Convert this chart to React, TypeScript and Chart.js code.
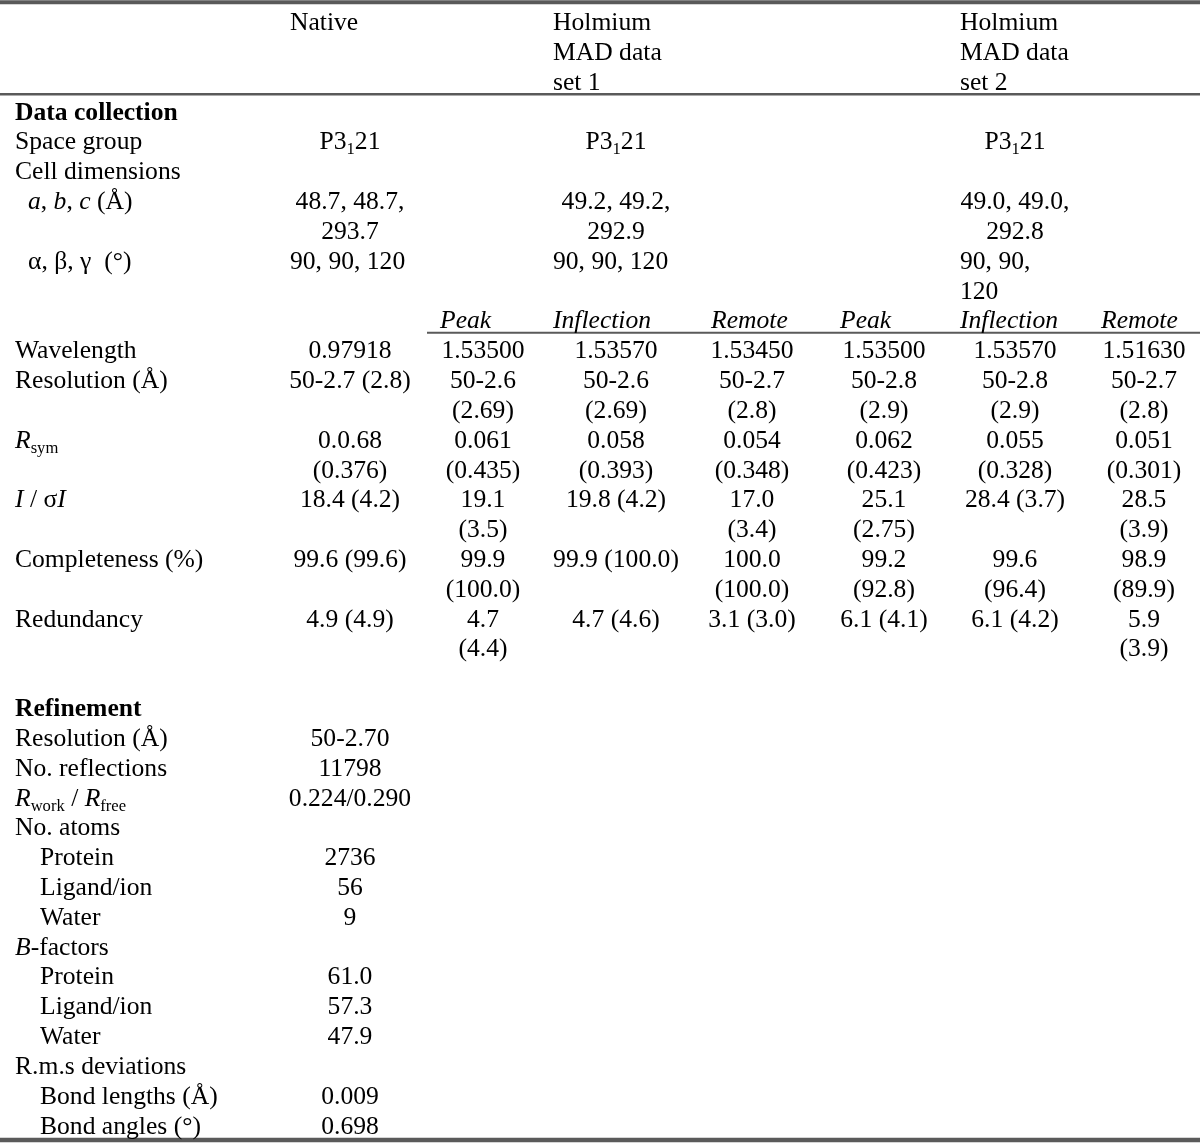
import React, { useEffect, useRef } from "react";
import { Chart, registerables } from "chart.js";

Chart.register(...registerables);

// ---------------- data ----------------
const groupHeaders = ["Native", "Holmium\nMAD data\nset 1", "Holmium\nMAD data\nset 2"];
const energyLabels = ["Peak", "Inflection", "Remote"];
const sectionTitles = ["Data collection", "Refinement"];

const crystalLabels = ["Space group", "Cell dimensions", "*a*, *b*, *c* (Å)", "α, β, γ  (°)"];
const crystalNative = ["P3_{1}21", "", "48.7, 48.7,\n293.7", "90, 90, 120"];
const crystalSet1 = ["P3_{1}21", "", "49.2, 49.2,\n292.9", "90, 90, 120"];
const crystalSet2 = ["P3_{1}21", "", "49.0, 49.0,\n292.8", "90, 90,\n120"];

const statLabels = ["Wavelength", "Resolution (Å)", "*R*_{sym}", "*I* / σ*I*", "Completeness (%)", "Redundancy"];
const statNative = ["0.97918", "50-2.7 (2.8)", "0.0.68\n(0.376)", "18.4 (4.2)", "99.6 (99.6)", "4.9 (4.9)"];
const statSet1Peak = ["1.53500", "50-2.6\n(2.69)", "0.061\n(0.435)", "19.1\n(3.5)", "99.9\n(100.0)", "4.7\n(4.4)"];
const statSet1Inflection = ["1.53570", "50-2.6\n(2.69)", "0.058\n(0.393)", "19.8 (4.2)", "99.9 (100.0)", "4.7 (4.6)"];
const statSet1Remote = ["1.53450", "50-2.7\n(2.8)", "0.054\n(0.348)", "17.0\n(3.4)", "100.0\n(100.0)", "3.1 (3.0)"];
const statSet2Peak = ["1.53500", "50-2.8\n(2.9)", "0.062\n(0.423)", "25.1\n(2.75)", "99.2\n(92.8)", "6.1 (4.1)"];
const statSet2Inflection = ["1.53570", "50-2.8\n(2.9)", "0.055\n(0.328)", "28.4 (3.7)", "99.6\n(96.4)", "6.1 (4.2)"];
const statSet2Remote = ["1.51630", "50-2.7\n(2.8)", "0.051\n(0.301)", "28.5\n(3.9)", "98.9\n(89.9)", "5.9\n(3.9)"];

const refineLabels = [
  "Resolution (Å)", "No. reflections", "*R*_{work} / *R*_{free}", "No. atoms",
  "Protein", "Ligand/ion", "Water", "*B*-factors", "Protein", "Ligand/ion", "Water",
  "R.m.s deviations", "Bond lengths (Å)", "Bond angles (°)",
];
const refineNative = ["50-2.70", "11798", "0.224/0.290", "", "2736", "56", "9", "", "61.0", "57.3", "47.9", "", "0.009", "0.698"];

// ---------------- layout / style ----------------
const WIDTH = 1200;
const HEIGHT = 1144;
const FONT_FAMILY = '"Liberation Serif", "Times New Roman", Times, serif';
const FONT_SIZE = 25.6;
const SUB_SIZE = 16.6;
const SUB_DROP = 5;
const LINE_PX = 29.82;
const FIRST_BASELINE_PX = 30.2;
const RULE_COLOR = "#5a5a5a";
const LABEL_X = 15;
const INDENT_PX = [0, 13, 25];
const crystalIndent = [0, 0, 1, 1];
const crystalAlign: ("left" | "center")[] = ["center", "center", "center", "left"];
const refineIndent = [0, 0, 0, 0, 2, 2, 2, 0, 2, 2, 2, 0, 2, 2];
const COL_CENTER = [350, 483, 616, 752, 884, 1015, 1144];
const COL_LEFT = [290, 440, 553, 711, 840, 960, 1101];
const SUBRULE_START = 427;

type Cell = { text: string; x: number; align: "left" | "center"; bold?: boolean };
type Row = { cells: Cell[]; rule?: { from: number; to: number; width: number } };
type Seg = { text: string; italic: boolean; sub: boolean };

function parseRich(s: string): Seg[] {
  const segs: Seg[] = [];
  let italic = false;
  let buf = "";
  const push = () => {
    if (buf) segs.push({ text: buf, italic, sub: false });
    buf = "";
  };
  for (let i = 0; i < s.length; i++) {
    const c = s[i];
    if (c === "*") {
      push();
      italic = !italic;
      continue;
    }
    if (c === "_" && s[i + 1] === "{") {
      push();
      const end = s.indexOf("}", i);
      segs.push({ text: s.slice(i + 2, end), italic: false, sub: true });
      i = end;
      continue;
    }
    buf += c;
  }
  push();
  return segs;
}

function fontFor(seg: Seg, bold?: boolean) {
  return `${seg.italic ? "italic " : ""}${bold ? "bold " : ""}${seg.sub ? SUB_SIZE : FONT_SIZE}px ${FONT_FAMILY}`;
}

function buildRows(): Row[] {
  const rows: Row[] = [];
  const label = (t: string, indent = 0, bold = false): Cell => ({ text: t, x: LABEL_X + INDENT_PX[indent], align: "left", bold });
  rows.push({
    cells: [
      { text: groupHeaders[0], x: COL_LEFT[0], align: "left" },
      { text: groupHeaders[1], x: COL_LEFT[2], align: "left" },
      { text: groupHeaders[2], x: COL_LEFT[5], align: "left" },
    ],
    rule: { from: 0, to: WIDTH, width: 2.5 },
  });
  rows.push({ cells: [label(sectionTitles[0], 0, true)] });
  crystalLabels.forEach((lab, i) => {
    const a = crystalAlign[i];
    const pos = (c: number) => (a === "left" ? COL_LEFT[c] : COL_CENTER[c]);
    rows.push({
      cells: [
        label(lab, crystalIndent[i]),
        { text: crystalNative[i], x: pos(0), align: a },
        { text: crystalSet1[i], x: pos(2), align: a },
        { text: crystalSet2[i], x: pos(5), align: a },
      ],
    });
  });
  rows.push({
    cells: [1, 2, 3, 4, 5, 6].map((c, i) => ({ text: `*${energyLabels[i % 3]}*`, x: COL_LEFT[c], align: "left" as const })),
    rule: { from: SUBRULE_START, to: WIDTH, width: 2 },
  });
  const statCols = [statNative, statSet1Peak, statSet1Inflection, statSet1Remote, statSet2Peak, statSet2Inflection, statSet2Remote];
  statLabels.forEach((lab, i) => {
    rows.push({
      cells: [label(lab), ...statCols.map((col, c) => ({ text: col[i], x: COL_CENTER[c], align: "center" as const }))],
    });
  });
  rows.push({ cells: [] });
  rows.push({ cells: [label(sectionTitles[1], 0, true)] });
  refineLabels.forEach((lab, i) => {
    rows.push({ cells: [label(lab, refineIndent[i]), { text: refineNative[i], x: COL_CENTER[0], align: "center" }] });
  });
  return rows;
}

type Placed = { cell: Cell; line: number };

function layout(rows: Row[]) {
  const placed: Placed[] = [];
  const rules: { y: number; from: number; to: number; width: number }[] = [];
  let line = 0;
  rows.forEach((r) => {
    let h = 1;
    r.cells.forEach((c) => {
      const parts = c.text.split("\n");
      h = Math.max(h, parts.length);
      parts.forEach((p, k) => {
        if (p) placed.push({ cell: { ...c, text: p }, line: line + k });
      });
    });
    line += h;
    if (r.rule) rules.push({ y: line - 1 + 0.15, ...r.rule });
  });
  rules.unshift({ y: -0.94, from: 0, to: WIDTH, width: 4 });
  rules.push({ y: line - 1 + 0.22, from: 0, to: WIDTH, width: 4.5 });
  return { placed, rules, lines: line };
}

export default function App() {
  const ref = useRef<HTMLCanvasElement | null>(null);
  useEffect(() => {
    document.body.style.margin = "0";
    const canvas = ref.current;
    if (!canvas) return;
    const { placed, rules } = layout(buildRows());
    const yMin = -FIRST_BASELINE_PX / LINE_PX;
    const yMax = yMin + HEIGHT / LINE_PX;

    const textPlugin = {
      id: "tableText",
      beforeDraw(chart: any) {
        const ctx = chart.ctx;
        ctx.save();
        ctx.fillStyle = "#ffffff";
        ctx.fillRect(0, 0, chart.width, chart.height);
        ctx.restore();
      },
      afterDatasetsDraw(chart: any) {
        const ctx: CanvasRenderingContext2D = chart.ctx;
        const xs = chart.scales.x;
        const ys = chart.scales.y;
        ctx.save();
        ctx.fillStyle = "#000000";
        ctx.textBaseline = "alphabetic";
        ctx.textAlign = "left";
        placed.forEach(({ cell, line }) => {
          const segs = parseRich(cell.text);
          const widths = segs.map((s) => {
            ctx.font = fontFor(s, cell.bold);
            return ctx.measureText(s.text).width;
          });
          const total = widths.reduce((a, b) => a + b, 0);
          const px = xs.getPixelForValue(cell.x);
          let x = cell.align === "center" ? px - total / 2 : px;
          const y = ys.getPixelForValue(line);
          segs.forEach((s, i) => {
            ctx.font = fontFor(s, cell.bold);
            ctx.fillText(s.text, x, s.sub ? y + SUB_DROP : y);
            x += widths[i];
          });
        });
        ctx.restore();
      },
    };

    const chart = new Chart(canvas, {
      type: "scatter",
      data: {
        datasets: rules.map((r) => ({
          data: [
            { x: r.from, y: r.y },
            { x: r.to, y: r.y },
          ],
          showLine: true,
          borderColor: RULE_COLOR,
          borderWidth: r.width,
          pointRadius: 0,
          borderCapStyle: "butt" as const,
        })),
      },
      options: {
        responsive: false,
        maintainAspectRatio: false,
        animation: false,
        devicePixelRatio: 1,
        layout: { padding: 0 },
        events: [],
        plugins: { legend: { display: false }, tooltip: { enabled: false }, title: { display: false } },
        scales: {
          x: { type: "linear", display: false, min: 0, max: WIDTH },
          y: { type: "linear", display: false, min: yMin, max: yMax, reverse: true },
        },
      },
      plugins: [textPlugin],
    });
    return () => chart.destroy();
  }, []);

  return <canvas ref={ref} width={WIDTH} height={HEIGHT} style={{ display: "block" }} />;
}
